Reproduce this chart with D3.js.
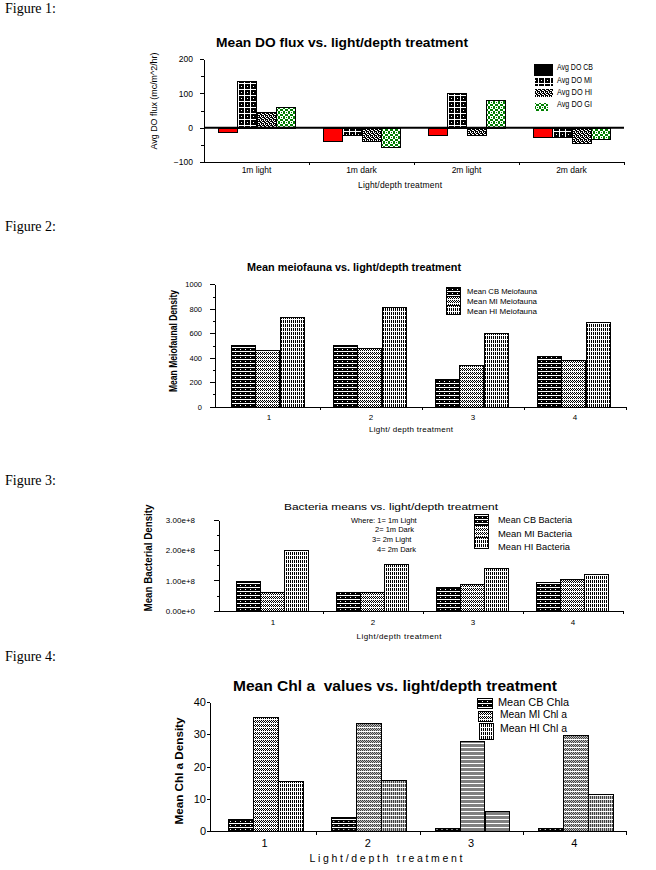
<!DOCTYPE html>
<html><head><meta charset="utf-8">
<script src="https://cdn.jsdelivr.net/npm/d3@7"></script>
<style>
body{margin:0;background:#fff;}
svg{display:block;}
text{font-family:"Liberation Sans",Arial,sans-serif;fill:#000;white-space:pre;}
</style></head><body>
<script>
// ---------- DATA ----------
const figureLabels = ["Figure 1:", "Figure 2:", "Figure 3:", "Figure 4:"];

const treatments = ["1m light", "1m dark", "2m light", "2m dark"];
const doCB = [-12, -38, -20, -27];
const doMI = [135, -20, 100, -27];
const doHI = [47, -38, -20, -45];
const doGI = [60, -56, 80, -32];
const doLegend = ["Avg DO CB", "Avg DO MI", "Avg DO HI", "Avg DO GI"];
const doTicks = [-100, 0, 100, 200];

const treatNums = ["1", "2", "3", "4"];
const meioCB = [505, 505, 225, 415];
const meioMI = [465, 480, 340, 385];
const meioHI = [735, 815, 605, 695];
const meioLegend = ["Mean CB Meiofauna", "Mean MI Meiofauna", "Mean HI Meiofauna"];
const meioTicks = [0, 200, 400, 600, 800, 1000];

const bactCB = [0.97e8, 0.62e8, 0.80e8, 0.96e8];
const bactMI = [0.63e8, 0.63e8, 0.88e8, 1.04e8];
const bactHI = [2.0e8, 1.53e8, 1.41e8, 1.20e8];
const bactLegend = ["Mean CB Bacteria", "Mean MI Bacteria", "Mean HI Bacteria"];
const bactTicks = [0, 1e8, 2e8, 3e8];
const bactNote = ["Where: 1= 1m Light", "2= 1m Dark", "3= 2m Light", "4= 2m Dark"];

const chlCB = [3.5, 4.2, 0.8, 0.9];
const chlMI = [35.5, 33.6, 27.8, 29.8];
const chlHI = [15.4, 15.7, 6.1, 11.3];
const chlLegend = ["Mean CB Chla", "Mean MI Chl a", "Mean HI Chl a"];
const chlTicks = [0, 10, 20, 30, 40];

// ---------- SETUP ----------
const svg = d3.select("body").append("svg").attr("width", 656).attr("height", 870);
const defs = svg.append("defs");

function makePattern(id, w, h, bg, fg, cells) {
  const p = defs.append("pattern").attr("id", id).attr("patternUnits", "userSpaceOnUse")
    .attr("width", w).attr("height", h);
  p.append("rect").attr("width", w).attr("height", h).attr("fill", bg);
  cells.forEach(c => p.append("rect").attr("x", c[0]).attr("y", c[1])
    .attr("width", c[2] || 1).attr("height", c[3] || 1).attr("fill", fg));
}
// Figure 1 patterns
makePattern("p1MI", 6, 6, "#000", "#fff", [[4,0,1,5],[0,5,6,1],[1,2]]);
makePattern("p1HI", 4, 4, "#000", "#fff", [[0,0],[2,0],[1,1],[3,2],[0,3],[2,2]]);
makePattern("p1GI", 5, 5, "#fff", "#008000", [[1,0,3,1],[0,1,1,3],[4,1,1,3],[1,4,3,1],[2,2]]);
// Figures 2-4 patterns
makePattern("pCB", 5, 4, "#000", "#fff", [[0,3,5,1],[2,1]]);
makePattern("pMI", 4, 4, "#fff", "#000", [[0,0],[2,0],[1,1],[3,1],[0,2],[2,2]]);
makePattern("pHI", 4, 4, "#fff", "#000", [[1,0,1,3],[3,0,1,3]]);

const crisp = "crispEdges";

// Figure labels
const figY = [13, 231, 485, 661];
figureLabels.forEach((t, i) => svg.append("text").attr("x", 5).attr("y", figY[i])
  .style("font-family", "'Liberation Serif','Times New Roman',serif").style("font-size", "14px").text(t));

function drawChart(o) {
  const g = svg.append("g");
  const x0 = d3.scaleBand().domain(o.cats).range(o.xRange);
  const y = d3.scaleLinear().domain(o.yDomain).range(o.yRange);
  const bw = x0.bandwidth();
  const x1 = d3.scaleBand().domain(d3.range(o.series.length))
    .range([bw * (1 - o.frac) / 2 + (o.shift || 0), bw * (1 + o.frac) / 2 + (o.shift || 0)]);

  // bars
  const groups = g.selectAll("g.grp").data(o.cats).join("g")
    .attr("transform", d => `translate(${x0(d)},0)`);
  groups.selectAll("rect").data((c, i) => o.series.map((vals, j) => ({ j, v: vals[i] })))
    .join("rect")
    .attr("x", d => Math.round(x1(d.j)) + 0.5)
    .attr("y", d => Math.round(y(Math.max(0, d.v))) + 0.5)
    .attr("width", x1.bandwidth())
    .attr("height", d => Math.max(1, Math.abs(Math.round(y(d.v)) - Math.round(y(0)))))
    .attr("fill", d => o.fills[d.j]).attr("stroke", "#000").attr("stroke-width", 1)
    .attr("shape-rendering", crisp);

  // y axis
  const ya = g.append("g").attr("transform", `translate(${o.yAxisX},0)`)
    .call(d3.axisLeft(y).tickValues(o.ticks).tickFormat(o.fmt).tickSize(o.tickSize)
      .tickPadding(o.tickPad).tickSizeOuter(0));
  ya.selectAll("path,line").attr("shape-rendering", crisp);
  ya.selectAll("text").style("font-size", o.tickFont + "px");
  ya.attr("font-family", null);
  if (o.minor) {
    const ym = g.append("g").attr("transform", `translate(${o.yAxisX},0)`)
      .call(d3.axisLeft(y).tickValues(o.minor).tickFormat("").tickSize(o.minorSize).tickSizeOuter(0));
    ym.select("path").remove();
    ym.selectAll("line").attr("shape-rendering", crisp);
  }

  // x axis: boundary ticks
  const xb = d3.scaleLinear().domain([0, o.cats.length]).range(o.xRange);
  const xa = g.append("g").attr("transform", `translate(0,${o.xAxisY})`)
    .call(d3.axisBottom(xb).tickValues(d3.range(1, o.cats.length + 1)).tickFormat("")
      .tickSize(o.xTickSize).tickSizeOuter(0));
  xa.select("path").remove();
  xa.selectAll("line").attr("shape-rendering", crisp);
  g.append("line").attr("x1", o.yAxisX - (o.xLineExt || 0)).attr("x2", o.xRange[1])
    .attr("y1", o.xAxisY + 0.5).attr("y2", o.xAxisY + 0.5).attr("stroke", "#000")
    .attr("shape-rendering", crisp);
  // category labels
  const xl = g.append("g").attr("transform", `translate(0,${o.xAxisY})`)
    .call(d3.axisBottom(x0).tickSize(0).tickSizeOuter(0));
  xl.select("path").remove();
  xl.attr("font-family", null);
  xl.selectAll("text").attr("y", o.catDy).attr("dy", null).style("font-size", o.catFont + "px");

  // zero line
  if (o.zeroLine) {
    g.append("line").attr("x1", o.yAxisX).attr("x2", o.xRange[1])
      .attr("y1", y(0)).attr("y2", y(0)).attr("stroke", "#000").attr("stroke-width", 2);
  }

  // titles
  const t = o.title;
  g.append("text").attr("x", t.x).attr("y", t.y).attr("text-anchor", "middle")
    .style("font-size", t.size + "px").style("font-weight", t.bold ? "bold" : "normal")
    .attr("textLength", t.len).attr("lengthAdjust", "spacingAndGlyphs").text(t.text);
  const yt = o.yTitle;
  g.append("text").attr("transform", `translate(${yt.x},${yt.y}) rotate(-90)`).attr("text-anchor", "middle")
    .style("font-size", yt.size + "px").style("font-weight", yt.bold ? "bold" : "normal")
    .attr("textLength", yt.len).attr("lengthAdjust", "spacingAndGlyphs").text(yt.text);
  const xt = o.xTitle;
  g.append("text").attr("x", xt.x).attr("y", xt.y).attr("text-anchor", "middle")
    .style("font-size", xt.size + "px")
    .attr("textLength", xt.len).attr("lengthAdjust", "spacing").text(xt.text);

  // legend
  const L = o.legend;
  L.labels.forEach((lab, i) => {
    const r = L.rows[i];
    g.append("rect").attr("x", r[0] + 0.5).attr("y", r[1] + 0.5).attr("width", r[2]).attr("height", r[3])
      .attr("fill", L.fills[i]).attr("stroke", L.stroke ? "#000" : "none").attr("shape-rendering", crisp);
    g.append("text").attr("x", L.tx[i]).attr("y", L.ty[i]).style("font-size", L.size + "px")
      .attr("textLength", L.lens ? L.lens[i] : null).attr("lengthAdjust", "spacingAndGlyphs").text(lab);
  });
  return { g, x0, y };
}

// ---------- FIGURE 1 ----------
drawChart({
  cats: treatments, series: [doCB, doMI, doHI, doGI],
  fills: ["#ff0000", "url(#p1MI)", "url(#p1HI)", "url(#p1GI)"],
  xRange: [204, 624], yDomain: [-100, 200], yRange: [162, 59], frac: 0.733,
  yAxisX: 204, ticks: doTicks, fmt: d3.format("d"), tickSize: 4, tickPad: 7, tickFont: 8.5,
  minor: [-50, 50, 150], minorSize: 3,
  xAxisY: 162, xTickSize: 3, catDy: 11, catFont: 8.5, zeroLine: true,
  title: { text: "Mean DO flux vs. light/depth treatment", x: 342, y: 47, size: 13, bold: true, len: 252 },
  yTitle: { text: "Avg DO flux (mc/m^2/hr)", x: 157, y: 101, size: 9, len: 97 },
  xTitle: { text: "Light/depth treatment", x: 400, y: 188, size: 8.5, len: 84 },
  legend: {
    labels: doLegend, fills: ["#000", "url(#p1MI)", "url(#p1HI)", "url(#p1GI)"], stroke: false,
    rows: [[533, 63, 19, 12], [534, 77, 18, 8], [534, 88, 18, 8], [534, 102, 13, 8]],
    tx: [557, 557, 557, 557], ty: [70, 83, 95, 107], size: 8.5, lens: [36, 35, 35, 35]
  }
});

// ---------- FIGURE 2 ----------
drawChart({
  cats: treatNums, series: [meioCB, meioMI, meioHI],
  fills: ["url(#pCB)", "url(#pMI)", "url(#pHI)"],
  xRange: [218, 626], yDomain: [0, 1000], yRange: [406.7, 284.3], frac: 0.716, shift: -1.5,
  yAxisX: 215, ticks: meioTicks, fmt: d3.format("d"), tickSize: 5, tickPad: 8, tickFont: 7.5,
  minor: [100, 300, 500, 700, 900], minorSize: 2,
  xAxisY: 406.7, xTickSize: 3, catDy: 13, catFont: 8,
  title: { text: "Mean meiofauna vs. light/depth treatment", x: 354, y: 271, size: 11, bold: true, len: 214 },
  yTitle: { text: "Mean Meiofaunal Density", x: 177, y: 341, size: 10, bold: true, len: 102 },
  xTitle: { text: "Light/ depth treatment", x: 411, y: 432, size: 8, len: 84 },
  legend: {
    labels: meioLegend, fills: ["url(#pCB)", "url(#pMI)", "url(#pHI)"], stroke: true,
    rows: [[446, 287, 14, 9], [446, 296, 14, 9], [446, 305, 14, 9]],
    tx: [467, 467, 467], ty: [294, 304, 314], size: 7.5, lens: [70, 70, 70]
  }
});

// ---------- FIGURE 3 ----------
const c3 = drawChart({
  cats: treatNums, series: [bactCB, bactMI, bactHI],
  fills: ["url(#pCB)", "url(#pMI)", "url(#pHI)"],
  xRange: [223, 623], yDomain: [0, 3e8], yRange: [610.7, 520], frac: 0.723, shift: -1,
  yAxisX: 219, ticks: bactTicks, fmt: d3.format(".2e"), tickSize: 5, tickPad: 19, tickFont: 8,
  minor: [0.5e8, 1.5e8, 2.5e8], minorSize: 2, xLineExt: 2,
  xAxisY: 610.7, xTickSize: 3, catDy: 14, catFont: 8,
  title: { text: "Bacteria means vs. light/depth treatment", x: 391, y: 510, size: 9.5, bold: false, len: 214 },
  yTitle: { text: "Mean Bacterial Density", x: 152, y: 558, size: 10, bold: true, len: 107 },
  xTitle: { text: "Light/depth treatment", x: 399, y: 639, size: 8, len: 85 },
  legend: {
    labels: bactLegend, fills: ["url(#pCB)", "url(#pMI)", "url(#pHI)"], stroke: true,
    rows: [[474, 514, 14, 11], [474, 525, 14, 12], [474, 537, 14, 11]],
    tx: [498, 498, 498], ty: [523, 537, 550], size: 8.5, lens: [74, 74, 72]
  }
});
const noteX = [351, 375, 372, 377], noteY = [523, 532, 542, 552];
bactNote.forEach((t, i) => c3.g.append("text").attr("x", noteX[i]).attr("y", noteY[i])
  .style("font-size", "7.5px").text(t));

// ---------- FIGURE 4 ----------
drawChart({
  cats: treatNums, series: [chlCB, chlMI, chlHI],
  fills: ["url(#pCB)", "url(#pMI)", "url(#pHI)"],
  xRange: [213, 626], yDomain: [0, 40], yRange: [830.7, 702.3], frac: 0.726, shift: 1,
  yAxisX: 210, ticks: chlTicks, fmt: d3.format("d"), tickSize: 3, tickPad: 1, tickFont: 11,
  xAxisY: 830.7, xTickSize: 4, catDy: 16, catFont: 11,
  title: { text: "Mean Chl a  values vs. light/depth treatment", x: 395, y: 691, size: 14, bold: true, len: 324 },
  yTitle: { text: "Mean Chl a Density", x: 183, y: 771, size: 11, bold: true, len: 107 },
  xTitle: { text: "Light/depth treatment", x: 386, y: 862, size: 10.5, len: 153 },
  legend: {
    labels: chlLegend, fills: ["url(#pCB)", "url(#pMI)", "url(#pHI)"], stroke: true,
    rows: [[477, 698, 15, 10], [478, 711, 14, 10], [479, 723, 14, 16]],
    tx: [498, 500, 500], ty: [706, 718, 732], size: 10, lens: [71, 67, 67]
  }
});
</script>
</body></html>
